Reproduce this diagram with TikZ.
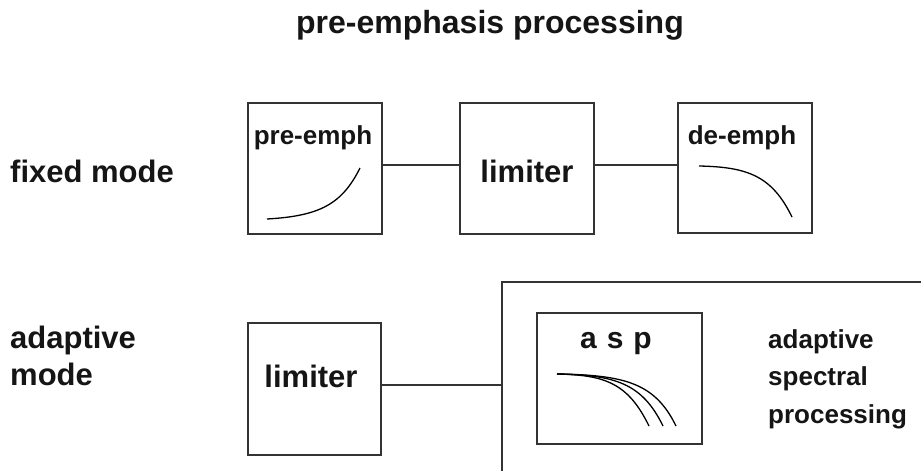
\documentclass[tikz,border=0pt]{standalone}
\usepackage{fontspec}
\setmainfont{Liberation Sans}
\definecolor{linec}{HTML}{333333}
\definecolor{txt}{HTML}{151515}
\begin{document}
\begin{tikzpicture}[x=1pt,y=-1pt,
  box/.style={draw=linec, line width=1.3pt, inner sep=0pt},
  lbl/.style={inner sep=0pt, anchor=base, text=txt},
  wire/.style={draw=linec, line width=1.2pt},
  crv/.style={draw=black, line width=1.3pt},
  fA/.style={font=\bfseries\fontsize{26}{37.5}\selectfont},
  fB/.style={font=\bfseries\fontsize{31}{37}\selectfont},
  fT/.style={font=\bfseries\fontsize{32}{38}\selectfont}]
\useasboundingbox[fill=white] (0,0) rectangle (921,471);

% title and side labels
\node[lbl, fT] (title) at (490,34) {pre-emphasis processing};
\node[lbl, fB, anchor=base west] (fixed) at (10,182) {fixed mode};
\node[inner sep=0pt, text=txt, fB, align=left, anchor=north west] (adapt) at (10,325.5) {adaptive\\mode};

% fixed mode boxes
\node[box, minimum width=134pt, minimum height=131pt] (pe) at (315,168.5) {};
\node[box, minimum width=134pt, minimum height=131pt] (lim1) at (527,168.5) {};
\node[box, minimum width=134pt, minimum height=130pt] (de) at (745,168) {};

\node[lbl, fA] (tpe) at (313,144) {pre-emph};
\node[lbl, fB] (tl1) at (527,182) {limiter};
\node[lbl, fA] (tde) at (742,144) {de-emph};

\draw[wire] ([yshift=3.5pt]pe.east) -- ([yshift=3.5pt]lim1.west);
\draw[wire] ([yshift=3.5pt]lim1.east) -- ([yshift=3pt]de.west);

% curves
\draw[crv] (267,219) .. controls (320,216) and (342,204) .. (360,168);
\draw[crv] (699,166) .. controls (748,167) and (772,176) .. (792,217);

% adaptive mode
\node[box, minimum width=133pt, minimum height=132pt] (lim2) at (314.5,389) {};
\node[lbl, fB] (tl2) at (311,387) {limiter};

\coordinate (rtop) at (921,282);
\coordinate (rcorner) at (502,282);
\coordinate (rbot) at (502,471);
\coordinate (tap) at (502,385);
\draw[wire] (rtop) -- (rcorner) -- (rbot);
\draw[wire] ([yshift=4pt]lim2.east) -- (tap);

\node[box, minimum width=165pt, minimum height=131pt] (asp) at (619.5,378.5) {};
\node[lbl, font=\bfseries\fontsize{30}{36}\selectfont] (tasp) at (616,348) {a\hspace{10pt}s\hspace{10pt}p};

\draw[crv] (557,374) .. controls (605,375) and (628,383) .. (649,426);
\draw[crv] (557,374) .. controls (615,375) and (642,383) .. (663,426);
\draw[crv] (557,374) .. controls (625,375) and (655,383) .. (676,426);

\node[inner sep=0pt, text=txt, fA, align=left, anchor=north west] (aspl) at (768,329) {adaptive\\spectral\\processing};
\end{tikzpicture}
\end{document}
